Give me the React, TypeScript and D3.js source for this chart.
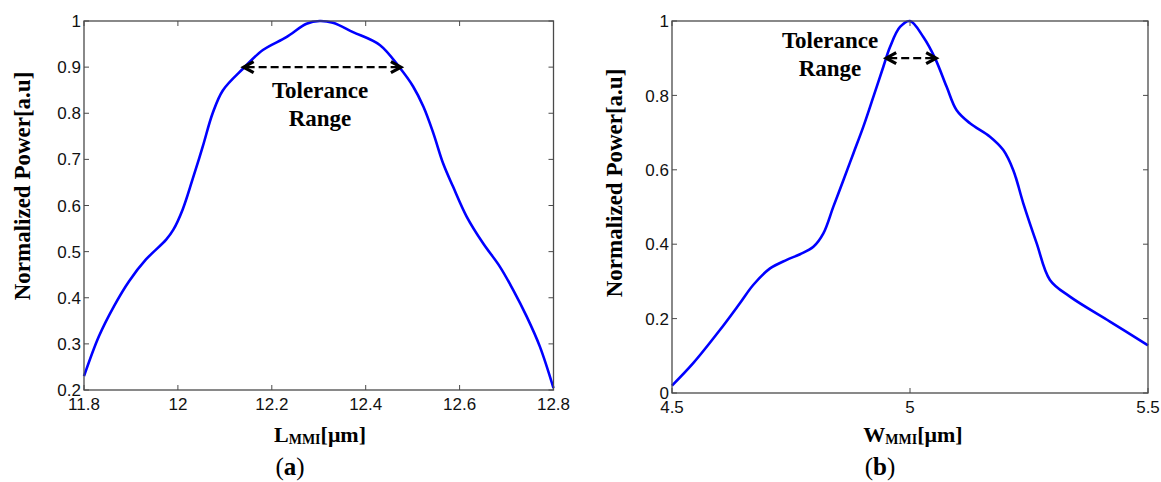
import React from 'react';
import * as d3 from 'd3';

// panel (a): power vs MMI length
const lengthUm = [11.8, 11.832, 11.864, 11.896, 11.932, 11.975, 11.99, 12.01, 12.031, 12.053, 12.074, 12.096, 12.139, 12.181, 12.231, 12.274, 12.302, 12.33, 12.373, 12.43, 12.473, 12.501, 12.523, 12.544, 12.565, 12.586, 12.615, 12.65, 12.686, 12.714, 12.743, 12.771, 12.8];
const powerA = [0.23, 0.317, 0.382, 0.436, 0.483, 0.526, 0.547, 0.591, 0.656, 0.728, 0.8, 0.85, 0.897, 0.937, 0.965, 0.994, 1.0, 0.996, 0.976, 0.948, 0.898, 0.858, 0.814, 0.757, 0.691, 0.641, 0.576, 0.518, 0.467, 0.417, 0.359, 0.294, 0.204];
const xTicksA = [11.8, 12, 12.2, 12.4, 12.6, 12.8];
const yTicksA = [0.2, 0.3, 0.4, 0.5, 0.6, 0.7, 0.8, 0.9, 1];
const toleranceA = [12.14, 12.475];

// panel (b): power vs MMI width
const widthUm = [4.5, 4.545, 4.601, 4.643, 4.671, 4.706, 4.741, 4.769, 4.797, 4.818, 4.839, 4.86, 4.881, 4.902, 4.923, 4.944, 4.958, 4.979, 5.0, 5.028, 5.053, 5.077, 5.098, 5.126, 5.168, 5.196, 5.217, 5.238, 5.266, 5.294, 5.336, 5.42, 5.5];
const powerB = [0.02, 0.081, 0.17, 0.242, 0.291, 0.335, 0.358, 0.373, 0.393, 0.429, 0.501, 0.572, 0.644, 0.716, 0.796, 0.877, 0.93, 0.984, 1.0, 0.957, 0.899, 0.823, 0.76, 0.725, 0.689, 0.653, 0.599, 0.51, 0.403, 0.304, 0.259, 0.192, 0.128];
const xTicksB = [4.5, 5, 5.5];
const yTicksB = [0, 0.2, 0.4, 0.6, 0.8, 1];
const toleranceB = [4.95, 5.055];
const toleranceLevel = 0.9;

const serif = '"Liberation Serif", "Times New Roman", serif';
const sans = '"Liberation Sans", Arial, sans-serif';
const axisColor = '#4a4a4a';

type PanelProps = {
  xs: number[];
  ys: number[];
  xDomain: [number, number];
  yDomain: [number, number];
  xTicks: number[];
  yTicks: number[];
  box: { left: number; right: number; top: number; bottom: number };
  tol: number[];
  tolText: { x: number; y: number };
  xName: string;
  yLabelPos: { x: number; y: number };
  xLabelPos: { x: number; y: number };
  caption: string;
  captionX: number;
};

const Arrow = ({ x1, x2, y }: { x1: number; x2: number; y: number }) => {
  const h = 10;
  const w = 5.5;
  return (
    <g stroke="#000" fill="none">
      <line x1={x1 + 3} x2={x2 - 3} y1={y} y2={y} strokeWidth={2.3} strokeDasharray="8,4" />
      <path d={`M${x1 + h},${y - w} L${x1},${y} L${x1 + h},${y + w}`} strokeWidth={3.2} />
      <path d={`M${x2 - h},${y - w} L${x2},${y} L${x2 - h},${y + w}`} strokeWidth={3.2} />
    </g>
  );
};

const Panel = (p: PanelProps) => {
  const x = d3.scaleLinear().domain(p.xDomain).range([p.box.left, p.box.right]);
  const y = d3.scaleLinear().domain(p.yDomain).range([p.box.bottom, p.box.top]);
  const pts = p.xs.map((v, i) => [v, p.ys[i]] as [number, number]);
  const line = d3
    .line<[number, number]>()
    .x((d) => x(d[0]))
    .y((d) => y(d[1]))
    .curve(d3.curveCatmullRom.alpha(0.5));
  const tk = 5;
  return (
    <g>
      <path d={line(pts) || ''} fill="none" stroke="#0000ff" strokeWidth={2.6} />
      <rect
        x={p.box.left}
        y={p.box.top}
        width={p.box.right - p.box.left}
        height={p.box.bottom - p.box.top}
        fill="none"
        stroke={axisColor}
        strokeWidth={1.3}
      />
      {p.xTicks.map((t) => (
        <g key={'x' + t}>
          <line x1={x(t)} x2={x(t)} y1={p.box.bottom} y2={p.box.bottom - tk} stroke={axisColor} />
          <line x1={x(t)} x2={x(t)} y1={p.box.top} y2={p.box.top + tk} stroke={axisColor} />
          <text x={x(t)} y={p.box.bottom + 20} textAnchor="middle" fontFamily={sans} fontSize={17} fill="#111">
            {t}
          </text>
        </g>
      ))}
      {p.yTicks.map((t) => (
        <g key={'y' + t}>
          <line x1={p.box.left} x2={p.box.left + tk} y1={y(t)} y2={y(t)} stroke={axisColor} />
          <line x1={p.box.right} x2={p.box.right - tk} y1={y(t)} y2={y(t)} stroke={axisColor} />
          <text
            x={p.box.left - 3}
            y={y(t)}
            dy="0.36em"
            textAnchor="end"
            fontFamily={sans}
            fontSize={17}
            fill="#111"
          >
            {t}
          </text>
        </g>
      ))}
      <Arrow x1={x(p.tol[0])} x2={x(p.tol[1])} y={y(toleranceLevel)} />
      <text x={p.tolText.x} y={p.tolText.y} textAnchor="middle" fontFamily={serif} fontWeight="bold" fontSize={23}>
        Tolerance
      </text>
      <text x={p.tolText.x} y={p.tolText.y + 28} textAnchor="middle" fontFamily={serif} fontWeight="bold" fontSize={23}>
        Range
      </text>
      <text
        transform={`translate(${p.yLabelPos.x},${p.yLabelPos.y}) rotate(-90)`}
        textAnchor="middle"
        dy="0.35em"
        fontFamily={serif}
        fontWeight="bold"
        fontSize={23}
      >
        Normalized Power[a.u]
      </text>
      <text x={p.xLabelPos.x} y={p.xLabelPos.y} textAnchor="middle" fontFamily={serif} fontWeight="bold" fontSize={22}>
        {p.xName}
        <tspan fontSize={14} dy={2}>MMI</tspan>
        <tspan dy={-2}>[μm]</tspan>
      </text>
      <text x={p.captionX} y={475} textAnchor="middle" fontFamily={serif} fontSize={25}>
        (<tspan fontWeight="bold">{p.caption}</tspan>)
      </text>
    </g>
  );
};

export default function App() {
  return (
    <svg width={1161} height={482} style={{ position: 'absolute', left: 0, top: 0, background: '#fff' }}>
      <rect width={1161} height={482} fill="#fff" />
      <Panel
        xs={lengthUm}
        ys={powerA}
        xDomain={[11.8, 12.8]}
        yDomain={[0.2, 1]}
        xTicks={xTicksA}
        yTicks={yTicksA}
        box={{ left: 84, right: 553.5, top: 21, bottom: 390 }}
        tol={toleranceA}
        tolText={{ x: 320, y: 98 }}
        xName="L"
        yLabelPos={{ x: 22, y: 186 }}
        xLabelPos={{ x: 320, y: 442 }}
        caption="a"
        captionX={290}
      />
      <Panel
        xs={widthUm}
        ys={powerB}
        xDomain={[4.5, 5.5]}
        yDomain={[0, 1]}
        xTicks={xTicksB}
        yTicks={yTicksB}
        box={{ left: 672, right: 1148, top: 21, bottom: 393 }}
        tol={toleranceB}
        tolText={{ x: 830, y: 48 }}
        xName="W"
        yLabelPos={{ x: 614, y: 183 }}
        xLabelPos={{ x: 913, y: 442 }}
        caption="b"
        captionX={880}
      />
    </svg>
  );
}
